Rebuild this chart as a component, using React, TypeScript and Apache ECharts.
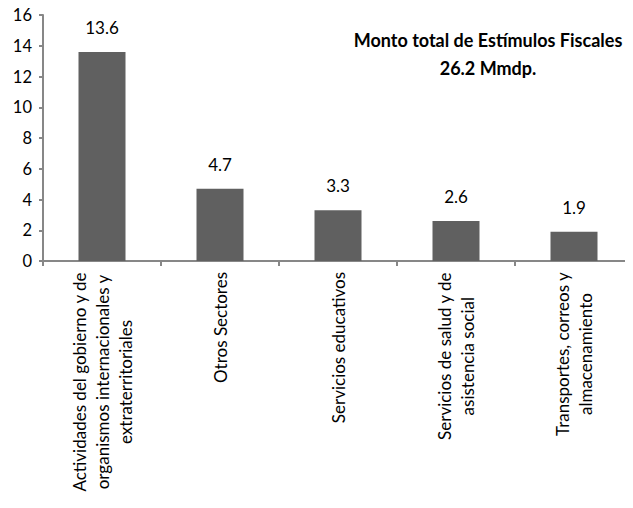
import React, { useEffect, useRef } from "react";
import * as echarts from "echarts";

const categories: string[] = [
  "Actividades del gobierno y de\norganismos internacionales y\nextraterritoriales",
  "Otros Sectores",
  "Servicios educativos",
  "Servicios de salud y de\nasistencia social",
  "Transportes, correos y\nalmacenamiento",
];
const values: number[] = [13.6, 4.7, 3.3, 2.6, 1.9];
const yTicks = { min: 0, max: 16, interval: 2 };
const titleLines: string[] = ["Monto total de Estímulos Fiscales", "26.2 Mmdp."];

const FONT = "Lato, 'Open Sans', sans-serif";

export default function App() {
  const ref = useRef<HTMLDivElement>(null);
  useEffect(() => {
    if (!ref.current) return;
    const chart = echarts.init(ref.current, undefined, { renderer: "svg" });
    chart.setOption({
      animation: false,
      title: {
        text: titleLines.join("\n"),
        left: 483,
        top: 21,
        textAlign: "center",
        textStyle: {
          fontFamily: FONT,
          fontWeight: "bold",
          fontSize: 18,
          lineHeight: 28,
          color: "#000",
        },
      },
      grid: { left: 43, right: -10, top: 15, bottom: 247, containLabel: false },
      xAxis: {
        type: "category",
        data: categories,
        axisLine: { lineStyle: { color: "#878787", width: 2 } },
        axisTick: { show: true, length: 5, lineStyle: { color: "#878787", width: 2 } },
        axisLabel: {
          rotate: 90,
          margin: 11,
          interval: 0,
          color: "#000",
          fontFamily: FONT,
          fontSize: 17,
          lineHeight: 23,
          formatter: (v: string) =>
            v
              .split("\n")
              .map((l) => "{c|" + l + "}")
              .join("\n"),
          rich: {
            c: { align: "center", fontFamily: FONT, fontSize: 17, lineHeight: 23, color: "#000" },
          },
        },
      },
      yAxis: {
        type: "value",
        min: yTicks.min,
        max: yTicks.max,
        interval: yTicks.interval,
        splitLine: { show: false },
        axisLine: { show: true, lineStyle: { color: "#878787", width: 2 } },
        axisTick: { show: true, length: 4, lineStyle: { color: "#878787", width: 2 } },
        axisLabel: { color: "#000", fontFamily: FONT, fontSize: 16.5, margin: 11 },
      },
      series: [
        {
          type: "bar",
          data: values,
          barWidth: 47,
          itemStyle: { color: "#606060" },
          label: {
            show: true,
            position: "top",
            distance: 16,
            color: "#000",
            fontFamily: FONT,
            fontSize: 17,
            formatter: (p: any) => p.value.toFixed(1),
          },
        },
      ],
    });
    return () => chart.dispose();
  }, []);
  return <div ref={ref} style={{ width: 633, height: 508, margin: -8 }} />;
}
